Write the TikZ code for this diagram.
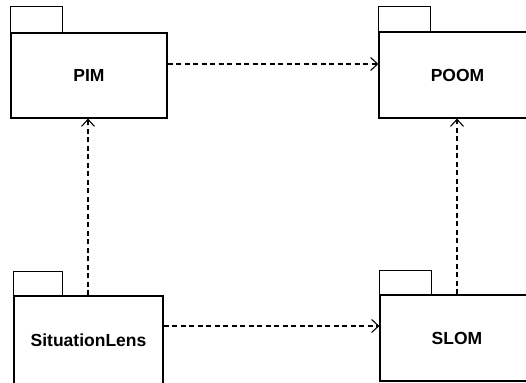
\documentclass[tikz,border=0pt]{standalone}
\usepackage{fontspec}
\setmainfont{Liberation Sans}
\usetikzlibrary{arrows.meta}
\begin{document}
\begin{tikzpicture}[x=1pt,y=-1pt,
  pkg/.style={draw, line width=1.2pt, inner sep=0pt, font=\fontsize{17.5}{21}\selectfont\bfseries},
  tab/.style={draw, line width=1.2pt},
  dep/.style={line width=1.3pt, dash pattern=on 5pt off 3.5pt, -{Straight Barb[length=7pt,width=13pt,line width=1.1pt]}}]
\useasboundingbox (0,0) rectangle (526,382);
\clip (0,0) rectangle (526,382);
\node[pkg, minimum width=156pt, minimum height=85pt] (PIM) at (89,75.5) {PIM};
\node[pkg, minimum width=157pt, minimum height=86pt] (POOM) at (457.5,75) {POOM};
\node[pkg, minimum width=149pt, minimum height=88pt] (SL) at (88.5,340) {SituationLens};
\node[pkg, minimum width=154pt, minimum height=86pt] (SLOM) at (457,338) {SLOM};
\draw[tab] (PIM.north west) rectangle ++(52,-26);
\draw[tab] (POOM.north west) rectangle ++(52,-25);
\draw[tab] (SL.north west) rectangle ++(49,-24);
\draw[tab] (SLOM.north west) rectangle ++(52,-24);
\draw[dep] ([yshift=11.5pt]PIM.east) -- ([yshift=11.5pt]PIM.east -| POOM.west);
\draw[dep] ([yshift=14pt]SL.east) -- ([yshift=14pt]SL.east -| SLOM.west);
\draw[dep] ([xshift=-0.5pt]SL.north) -- ([xshift=-0.5pt]SL.north |- PIM.south);
\draw[dep] (SLOM.north) -- (SLOM.north |- POOM.south);
\end{tikzpicture}
\end{document}
